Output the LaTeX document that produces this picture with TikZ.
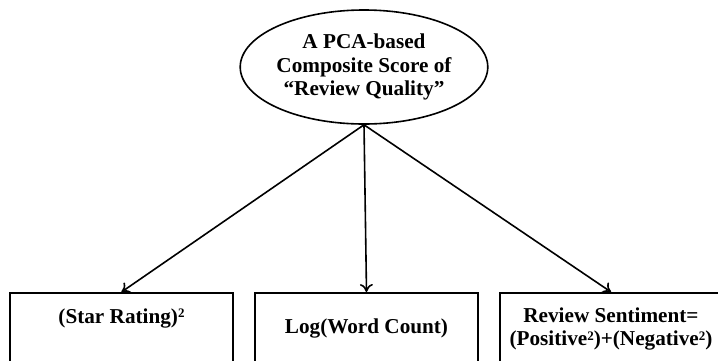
\documentclass[tikz,border=0pt]{standalone}
\usepackage{fontspec}
\setmainfont{Liberation Serif}
\usetikzlibrary{shapes.geometric,arrows.meta}

\newcommand{\sqr}{\raisebox{0.55ex}{\fontsize{6.5}{7}\selectfont 2}}

\begin{document}
\begin{tikzpicture}[x=0.5pt,y=-0.5pt,
  every node/.style={font=\bfseries\fontsize{10.6}{11.8}\selectfont,align=center},
  itembox/.style={draw,line width=1pt,minimum width=111.5pt,minimum height=36pt,inner sep=0pt},
  link/.style={line width=0.8pt,-{To[length=4pt,width=6.5pt]}}]
  \useasboundingbox (0,0) rectangle (718,360);
  \clip (0,0) rectangle (718,360);
  \node[draw,ellipse,line width=0.8pt,minimum width=123pt,minimum height=57pt,inner sep=0pt] (pca) at (364,67)
    {A PCA-based\\Composite Score of\\``Review Quality''};
  \node[itembox] (star) at (121.5,329) {};
  \node[itembox] (words) at (366.5,329) {};
  \node[itembox] (senti) at (611,329) {};
  \node (startxt) at (121.5,318) {(Star Rating)\sqr};
  \node (wordstxt) at (366.5,328) {Log(Word Count)};
  \node (sentitxt) at (611,329) {Review Sentiment=\\(Positive\sqr)+(Negative\sqr)};
  \draw[link] (pca.south) -- (star.north);
  \draw[link] (pca.south) -- (words.north);
  \draw[link] (pca.south) -- (senti.north);
\end{tikzpicture}
\end{document}
